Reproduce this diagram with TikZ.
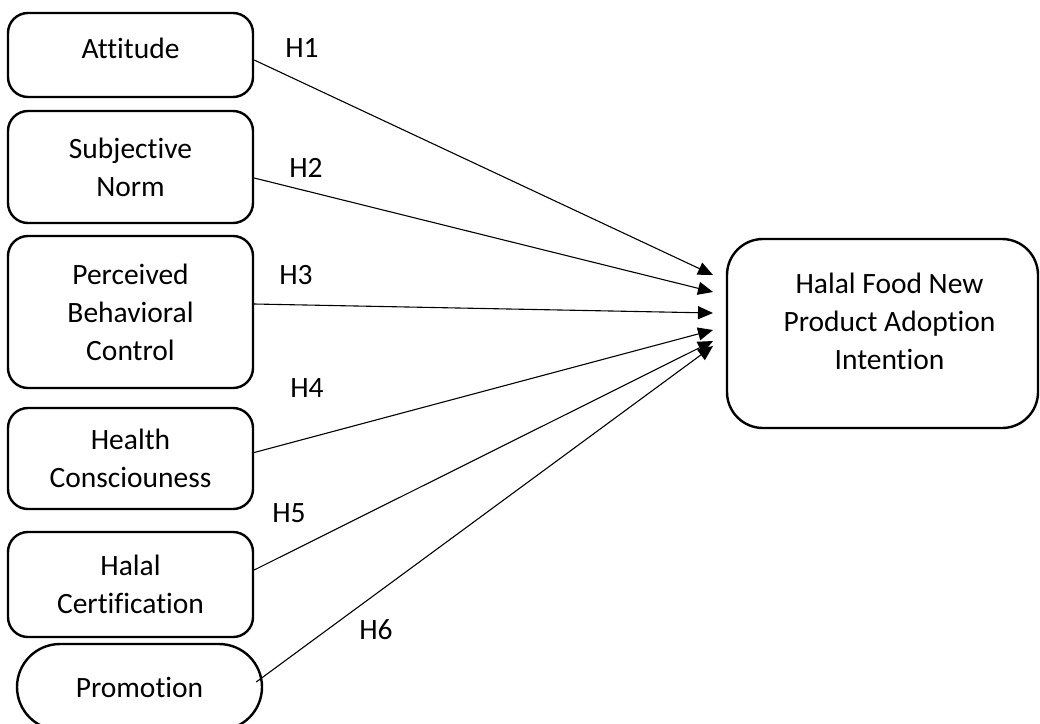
\documentclass[tikz,border=0pt]{standalone}
\usepackage{fontspec}
\setmainfont{Carlito}[Ligatures={NoCommon}]
\usetikzlibrary{arrows.meta,shapes.misc}
\begin{document}
\begin{tikzpicture}[x=1pt,y=-1pt,
  txt/.style={font=\fontsize{29.5}{38}\selectfont, align=center, inner sep=0pt},
  lbox/.style={txt, draw, line width=2.4pt, rounded corners=20pt, minimum width=245pt},
  conn/.style={line width=1.1pt, -{Triangle[length=15pt,width=13pt]}},
  hlab/.style={font=\fontsize{29.5}{38}\selectfont, inner sep=0pt}]
\useasboundingbox (0,0) rectangle (1040,723);
\begin{scope}
\clip (0,0) rectangle (1040,723);
\node[lbox, minimum height=84pt] (att) at (130.5,55) {\raisebox{7pt}[\height][\depth]{Attitude}};
\node[lbox, minimum height=112pt] (sub) at (130.5,167) {Subjective\\Norm};
\node[lbox, minimum height=152pt] (pbc) at (130.5,312) {Perceived\\Behavioral\\Control};
\node[lbox, minimum height=101pt] (hc) at (130.5,458.5) {Health\\Consciouness};
\node[lbox, minimum height=105pt] (cert) at (130.5,584.5) {Halal\\Certification};
\node[txt, draw, line width=2.4pt, rounded rectangle, minimum width=245pt, minimum height=86pt] (promo) at (139.5,687) {Promotion};
\node[txt, draw, line width=2.4pt, rounded corners=36pt, minimum width=311pt, minimum height=189pt] (out) at (882.5,333.5)
  {\raisebox{10pt}[\height][\depth]{\hspace*{14pt}\begin{tabular}{@{}c@{}}Halal Food New\\Product Adoption\\Intention\end{tabular}}};
\end{scope}
\coordinate (t1) at (713,275);
\coordinate (t2) at (713,292);
\coordinate (t3) at (713,313);
\coordinate (t4) at (713,330);
\coordinate (t5) at (713,341);
\coordinate (t6) at (713,346);
\draw[conn] ([yshift=-5pt]att.east) -- (t1);
\draw[conn] ([yshift=-11pt]sub.east) -- (t2);
\draw[conn] ([yshift=8pt]pbc.east) -- (t3);
\draw[conn] ([yshift=6pt]hc.east) -- (t4);
\draw[conn] ([yshift=14.5pt]cert.east) -- (t5);
\draw[conn] ([xshift=-7pt,yshift=5pt]promo.east) -- (t6);
\node[hlab] (h1) at (302,48.5) {H1};
\node[hlab] (h2) at (306,168) {H2};
\node[hlab] (h3) at (296,275) {H3};
\node[hlab] (h4) at (307,388) {H4};
\node[hlab] (h5) at (289,513) {H5};
\node[hlab] (h6) at (376,630) {H6};
\end{tikzpicture}
\end{document}
